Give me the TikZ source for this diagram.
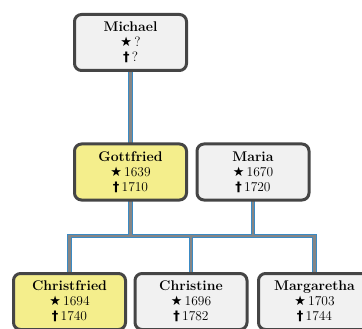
\documentclass[tikz,border=0pt]{standalone}
\usepackage{fontspec}
\newfontfamily\symfont{DejaVu Sans}
\definecolor{boxborder}{HTML}{454545}
\definecolor{boxgray}{HTML}{F1F1F1}
\definecolor{boxyellow}{HTML}{F4EE8C}
\definecolor{edgeblue}{HTML}{3A8AC4}
\definecolor{edgegray}{HTML}{858585}
\newcommand{\pname}[1]{{\fontsize{14}{15}\selectfont\bfseries #1}}
\newcommand{\born}{{\symfont\bfseries\fontsize{13}{15}\selectfont ★}\,}
\newcommand{\died}{{\symfont\bfseries\fontsize{13}{15}\selectfont †}\,}
\tikzset{
  person/.style={draw=boxborder, line width=3pt, rounded corners=7pt,
    minimum width=112pt, minimum height=56pt, align=center, inner sep=0pt,
    font=\fontsize{13.5}{15}\selectfont, fill=#1},
  person/.default=boxgray,
  famedge/.style={draw=edgeblue, double=edgegray, line width=1pt,
    double distance=2.5pt, line join=miter}
}
\begin{document}
\begin{tikzpicture}[x=1pt,y=-1pt]
\useasboundingbox (0,0) rectangle (362,329);
\coordinate (jn) at (0,236);
% nodes (positions)
\path
  (130.5,42.5) node[person, opacity=0] (michael) {}
  (130.5,172) node[person, opacity=0] (gottfried) {}
  (253,172) node[person, opacity=0] (maria) {}
  (69.5,301.5) node[person, opacity=0] (christfried) {}
  (191,301.5) node[person, opacity=0] (christine) {}
  (314.5,301.5) node[person, opacity=0] (margaretha) {};
% edges
\draw[famedge] (michael.center) -- (gottfried.center);
\draw[famedge] (gottfried.center) -- (gottfried |- jn)
  (maria.center) -- (maria |- jn)
  (christine.center) -- (christine |- jn)
  (christfried.center) -- (christfried |- jn) -- (margaretha |- jn) -- (margaretha.center);
% boxes
\node[person] at (michael) {\pname{Michael}\\\born ?\\\died ?};
\node[person=boxyellow] at (gottfried) {\pname{Gottfried}\\\born 1639\\\died 1710};
\node[person] at (maria) {\pname{Maria}\\\born 1670\\\died 1720};
\node[person=boxyellow] at (christfried) {\pname{Christfried}\\\born 1694\\\died 1740};
\node[person] at (christine) {\pname{Christine}\\\born 1696\\\died 1782};
\node[person] at (margaretha) {\pname{Margaretha}\\\born 1703\\\died 1744};
\end{tikzpicture}
\end{document}
